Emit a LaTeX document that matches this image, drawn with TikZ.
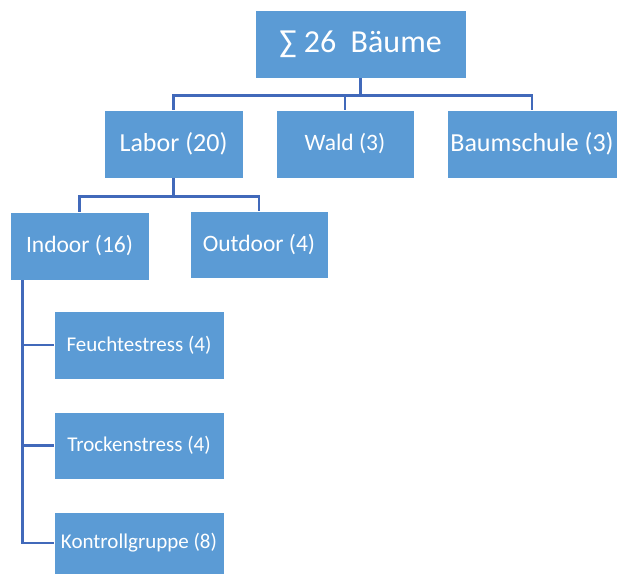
\documentclass[tikz,border=0pt]{standalone}
\usepackage{fontspec}
\setmainfont{Carlito}
\definecolor{boxblue}{HTML}{5B9BD5}
\definecolor{lineblue}{HTML}{4169BA}
\begin{document}
\begin{tikzpicture}[x=1pt,y=-1pt,
  box/.style={rectangle,fill=boxblue,draw=white,line width=0.6pt,text=white,inner sep=0pt,align=center},
  conn/.style={draw=lineblue,line width=2.8pt}]
\useasboundingbox (0,0) rectangle (617,574);
\node[box,minimum width=211pt,minimum height=68pt,font=\fontsize{32}{36}\selectfont] (top) at (360.5,44) {∑ 26\ \ Bäume};
\node[box,minimum width=139pt,minimum height=68pt,font=\fontsize{26}{30}\selectfont] (labor) at (173.5,144) {Labor (20)};
\node[box,minimum width=138pt,minimum height=68pt,font=\fontsize{23.5}{28}\selectfont] (wald) at (345,144) {Wald (3)};
\node[box,minimum width=170pt,minimum height=68pt,font=\fontsize{26}{30}\selectfont] (baum) at (532,144) {Baumschule (3)};
\node[box,minimum width=139pt,minimum height=68pt,font=\fontsize{23.5}{28}\selectfont] (indoor) at (79.5,246) {Indoor (16)};
\node[box,minimum width=138pt,minimum height=67pt,font=\fontsize{23.5}{28}\selectfont] (outdoor) at (259,244.5) {Outdoor (4)};
\node[box,minimum width=170pt,minimum height=68pt,font=\fontsize{21}{25}\selectfont] (feucht) at (139,345) {Feuchtestress (4)};
\node[box,minimum width=170pt,minimum height=67pt,font=\fontsize{21}{25}\selectfont] (trocken) at (139,445.5) {Trockenstress (4)};
\node[box,minimum width=170pt,minimum height=62pt,font=\fontsize{21}{25}\selectfont] (kontroll) at (139,543) {Kontrollgruppe (8)};
% connectors
\coordinate (bus1) at ([yshift=-17pt]top.south);
\draw[conn] (top.south) -- (bus1) -| (labor.north);
\draw[conn] (bus1) -| (wald.north);
\draw[conn] (bus1) -| (baum.north);
\coordinate (bus2) at ([yshift=-18pt]labor.south);
\draw[conn] (labor.south) -- (bus2) -| (indoor.north);
\draw[conn] (bus2) -| (outdoor.north);
\coordinate (bus3) at ([xshift=13pt]indoor.south west);
\draw[conn] (bus3) |- (feucht.west);
\draw[conn] (bus3) |- (trocken.west);
\draw[conn] (bus3) |- (kontroll.west);
\end{tikzpicture}
\end{document}
